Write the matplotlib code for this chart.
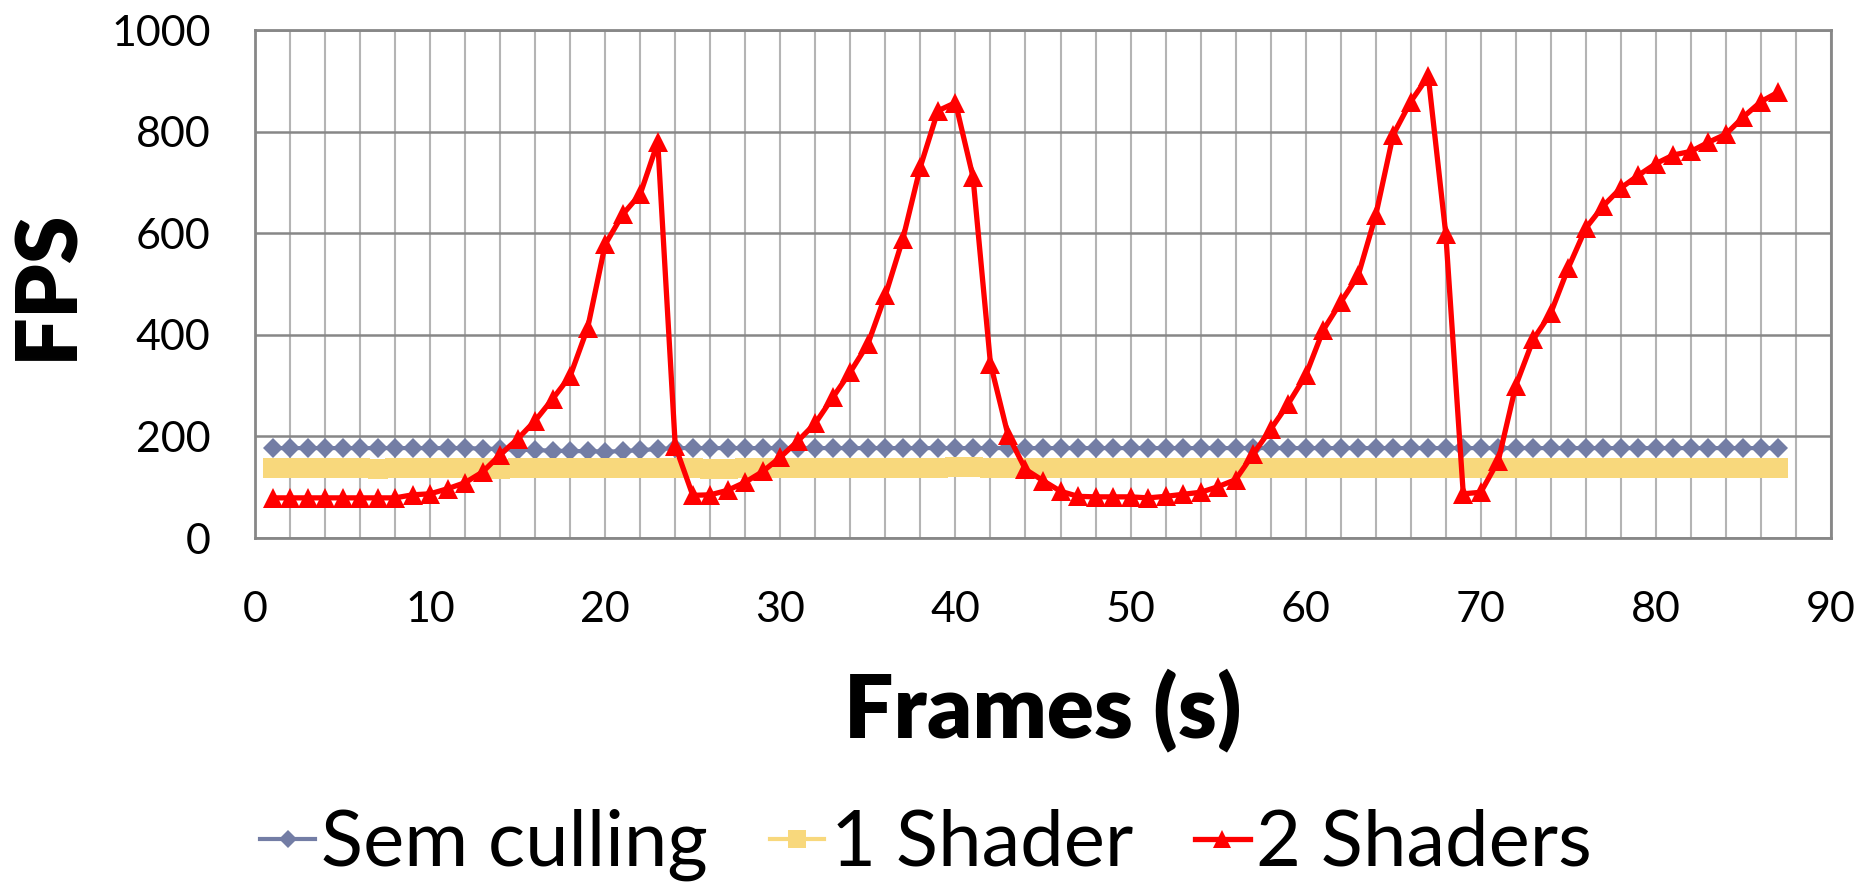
import matplotlib
matplotlib.use("Agg")
import matplotlib.pyplot as plt
from matplotlib.ticker import MultipleLocator

plt.rcParams['font.family'] = ['Lato', 'DejaVu Sans']

frames = list(range(1, 88))

sem_culling = [177, 177, 177, 177, 177, 177, 177, 177, 177, 177,
               177, 177, 176, 175, 174, 173, 172, 171, 171, 170,
               171, 173, 175, 177, 177, 177, 177, 177, 177, 177,
               177, 177, 177, 177, 177, 177, 177, 177, 177, 177,
               177, 177, 177, 177, 177, 177, 177, 177, 177, 177,
               177, 177, 177, 177, 177, 177, 177, 177, 177, 177,
               177, 177, 177, 177, 177, 177, 177, 177, 177, 177,
               177, 177, 177, 177, 177, 177, 177, 177, 177, 177,
               177, 177, 177, 177, 177, 177, 177]

one_shader = [138, 138, 138, 138, 138, 138, 136, 137, 138, 138,
              138, 137, 137, 136, 137, 138, 138, 138, 138, 138,
              138, 138, 138, 138, 137, 136, 136, 137, 138, 138,
              138, 138, 138, 138, 138, 138, 138, 138, 138, 139,
              139, 138, 138, 137, 137, 138, 138, 138, 138, 138,
              138, 138, 138, 138, 138, 138, 138, 138, 138, 138,
              138, 138, 138, 138, 138, 138, 138, 138, 137, 137,
              138, 138, 138, 138, 138, 138, 138, 138, 138, 138,
              138, 138, 138, 138, 138, 138, 138]

two_shaders = [79, 79, 79, 79, 79, 79, 79, 79, 85, 87,
               97, 109, 130, 164, 195, 231, 274, 319, 414, 578,
               637, 677, 779, 181, 84, 85, 94, 110, 131, 159,
               191, 226, 277, 327, 382, 478, 589, 731, 841, 857,
               711, 343, 203, 135, 113, 92, 82, 81, 81, 81,
               79, 82, 86, 90, 101, 115, 165, 214, 264, 320,
               409, 464, 517, 635, 794, 859, 909, 599, 87, 90,
               152, 300, 391, 443, 532, 610, 654, 689, 714, 737,
               754, 761, 779, 795, 829, 859, 878]

series_labels = ['Sem culling', '1 Shader', '2 Shaders']
x_ticks = list(range(0, 91, 10))
y_ticks = list(range(0, 1001, 200))

W, H = 1875, 889
fig = plt.figure(figsize=(W / 100, H / 100), dpi=100)
ax = fig.add_axes([255 / W, 1 - 538 / H, (1831 - 255) / W, (538 - 30) / H])

l1, = ax.plot(frames, sem_culling, color='#737DA5', lw=3, marker='D',
              markersize=10.5, markeredgewidth=0, zorder=3)
l2, = ax.plot(frames, one_shader, color='#F8D87C', lw=3, marker='s',
              markersize=15, markeredgewidth=0, zorder=4)
l3, = ax.plot(frames, two_shaders, color='#FF0000', lw=3.8, marker='^',
              markersize=15, markeredgewidth=0, zorder=5)

ax.set_xlim(0, 90)
ax.set_ylim(0, 1000)
ax.set_xticks(x_ticks)
ax.set_yticks(y_ticks)
ax.xaxis.set_minor_locator(MultipleLocator(2))

ax.grid(axis='x', which='both', color='#B4B4B4', lw=1.5, zorder=1)
ax.grid(axis='y', which='major', color='#878787', lw=1.8, zorder=1)
ax.set_axisbelow(True)
for s in ax.spines.values():
    s.set_color('#878787')
    s.set_linewidth(2)

ax.tick_params(axis='both', which='both', length=0, labelsize=31)
ax.tick_params(axis='x', pad=38)
ax.tick_params(axis='y', pad=32)

fig.text(47 / W, 1 - 284 / H, 'FPS', rotation=90, ha='center', va='center',
         fontsize=62, fontweight='heavy')
fig.text(1043 / W, 1 - 737 / H, 'Frames (s)', ha='center', va='baseline',
         fontsize=63, fontweight='heavy')

fig.legend([l1, l2, l3], series_labels, loc='center', ncol=3,
           bbox_to_anchor=(926 / W, 1 - 845 / H), frameon=False,
           fontsize=56, handlelength=0.7, handletextpad=0.08,
           columnspacing=0.8, borderaxespad=0, borderpad=0,
           markerscale=0.85)

fig.savefig('out.png', dpi=100, facecolor='white')
